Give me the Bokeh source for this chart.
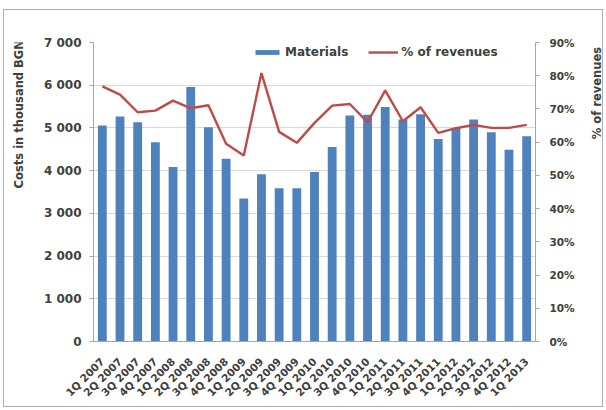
import math
from bokeh.plotting import figure
from bokeh.layouts import row
from bokeh.models import (Range1d, LinearAxis, FixedTicker, Legend, LegendItem,
                          FactorRange, ColumnDataSource)
from bokeh.core.properties import value
from bokeh.embed import file_html
from bokeh.resources import INLINE

quarters = ["1Q 2007", "2Q 2007", "3Q 2007", "4Q 2007",
            "1Q 2008", "2Q 2008", "3Q 2008", "4Q 2008",
            "1Q 2009", "2Q 2009", "3Q 2009", "4Q 2009",
            "1Q 2010", "2Q 2010", "3Q 2010", "4Q 2010",
            "1Q 2011", "2Q 2011", "3Q 2011", "4Q 2011",
            "1Q 2012", "2Q 2012", "3Q 2012", "4Q 2012",
            "1Q 2013"]
materials = [5058, 5270, 5135, 4665, 4083, 5960, 5015, 4280,
             3345, 3915, 3590, 3590, 3970, 4555, 5292, 5308,
             5490, 5200, 5320, 4740, 5000, 5200, 4900, 4490, 4805]
pct_revenues = [76.8, 74.3, 69.0, 69.5, 72.5, 70.2, 71.1, 59.5,
                56.0, 80.8, 63.1, 59.8, 65.8, 71.0, 71.5, 66.0,
                75.6, 66.3, 70.5, 62.8, 64.2, 65.2, 64.3, 64.3, 65.2]
left_ticks = [0, 1000, 2000, 3000, 4000, 5000, 6000, 7000]
left_tick_labels = ["0", "1 000", "2 000", "3 000", "4 000", "5 000", "6 000", "7 000"]
right_ticks = [0, 10, 20, 30, 40, 50, 60, 70, 80, 90]
right_tick_labels = ["0%", "10%", "20%", "30%", "40%", "50%", "60%", "70%", "80%", "90%"]
left_title = "Costs in thousand BGN"
right_title = "% of revenues"

FONT = "DejaVu Sans"
TXT = "#404040"
AX = "#A6A6A6"
H = 396

src = ColumnDataSource(dict(q=quarters, m=materials, p=pct_revenues))

p = figure(x_range=FactorRange(*quarters), y_range=Range1d(0, 7000),
           width=554, height=H, output_backend="svg", toolbar_location=None,
           min_border_left=59, min_border_right=53, min_border_top=32,
           min_border_bottom=65)
p.extra_y_ranges = {"pct": Range1d(0, 90)}
p.outline_line_color = None
p.xgrid.grid_line_color = None
p.ygrid.grid_line_color = "#D9D9D9"

bars = p.vbar(x="q", top="m", width=0.5, source=src, fill_color="#4F81BD",
              line_color=None)
line = p.line(x="q", y="p", source=src, y_range_name="pct",
              line_color="#BE4B48", line_width=2.4)

ya = p.yaxis[0]
ya.ticker = FixedTicker(ticks=left_ticks)
ya.major_label_overrides = {t: l for t, l in zip(left_ticks, left_tick_labels)}
ra = LinearAxis(y_range_name="pct", ticker=FixedTicker(ticks=right_ticks))
ra.major_label_overrides = {t: l for t, l in zip(right_ticks, right_tick_labels)}
p.add_layout(ra, "right")

for ax in (ya, ra):
    ax.axis_line_color = AX
    ax.major_tick_line_color = AX
    ax.major_tick_out = 4
    ax.major_tick_in = 0
    ax.minor_tick_line_color = None
    ax.major_label_text_font = FONT
    ax.major_label_text_font_style = "bold"
    ax.major_label_text_color = TXT
ya.major_label_text_font_size = "12px"
ra.major_label_text_font_size = "10.5px"
ya.major_label_standoff = 8
ra.major_label_standoff = 10

xa = p.xaxis[0]
xa.axis_line_color = AX
xa.major_tick_line_color = None
xa.minor_tick_line_color = None
xa.major_label_orientation = math.pi / 4
xa.major_label_text_font = FONT
xa.major_label_text_font_style = "bold"
xa.major_label_text_font_size = "10.5px"
xa.major_label_text_color = TXT
xa.major_label_standoff = 12

legend = Legend(items=[LegendItem(label="Materials", renderers=[bars]),
                       LegendItem(label="% of revenues", renderers=[line])],
                orientation="horizontal", location=(159, 282),
                padding=0, margin=0, spacing=20, label_standoff=3,
                glyph_width=30, glyph_height=6, label_height=14,
                background_fill_alpha=0, border_line_color=None,
                label_text_font=FONT, label_text_font_style="bold",
                label_text_font_size="12px", label_text_color=TXT)
p.add_layout(legend)


def title_strip(width, text, tx, ty):
    f = figure(width=width, height=H, x_range=Range1d(0, width),
               y_range=Range1d(0, H), output_backend="svg",
               toolbar_location=None, min_border=0)
    f.axis.visible = False
    f.grid.visible = False
    f.outline_line_color = None
    f.text(x=[tx], y=[ty], text=[text], angle=math.pi / 2,
           text_align="center", text_baseline="middle",
           text_font=value(FONT), text_font_style="bold",
           text_font_size=value("11.5px"), text_color=TXT)
    return f


pl = title_strip(30, left_title, 14, H - 95)
pr = title_strip(14, right_title, 8, H - 67)

layout = row(pl, p, pr, spacing=0)
layout.styles = {"margin-left": "3px", "margin-top": "9px",
                 "border": "1px solid #B0B0B0"}

open("out.html", "w").write(file_html(layout, INLINE))
